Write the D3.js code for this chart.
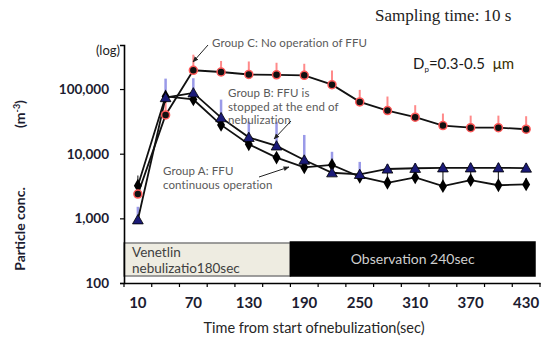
<!DOCTYPE html>
<html><head><meta charset="utf-8">
<script src="https://cdn.jsdelivr.net/npm/d3@7"></script>
<style>body{margin:0;background:#fff} svg{display:block}</style>
</head><body><svg id="c" width="543" height="340"></svg>
<script>
const categories = [10,40,70,100,130,160,190,220,250,280,310,340,370,400,430];
const tickLabels = [10,70,130,190,250,310,370,430];
const yTickValues = [100,1000,10000,100000];
const groupA = [3200,77000,69000,27900,14000,8700,6150,6700,4400,3550,4300,3150,3900,3250,3350];
const groupAUpper = [4600,80000,72000,29000,14500,9000,6400,7000,4600,5600,5700,5700,5800,5700,4200];
const groupB = [950,73800,87300,36100,17900,13200,7980,5070,4790,5800,5950,6050,6050,6050,6000];
const groupBUpper = [1510,145000,147000,68600,31300,31200,19500,10700,7470,6900,7100,7200,7200,7200,7100];
const groupC = [2370,39800,195000,183500,168000,166000,163000,117000,63300,46400,36700,27200,25300,25300,23900];
const groupCUpper = [2600,63000,340000,272000,267000,255000,246000,193000,97000,76600,56300,41800,38800,38800,38000];
const phaseLabels = [["Venetlin","nebulizatio180sec"],["Observation 240sec"]];
const phaseBounds = [[10,190],[190,430]];

const svg = d3.select("#c");
const font = "Lato, 'Liberation Sans', sans-serif";
const x = d3.scaleBand().domain(categories).range([124,540]);
const bw = x.bandwidth();
const cx = c => x(c) + bw/2;
const y = d3.scaleLog().domain([100,480000]).range([283,45]);

// defs arrow
svg.append("defs").append("marker").attr("id","ah").attr("viewBox","0 0 10 10")
  .attr("refX",9).attr("refY",5).attr("markerWidth",6).attr("markerHeight",6)
  .attr("orient","auto").append("path").attr("d","M0,1L10,5L0,9z").attr("fill","#222");

// phase boxes
const boxTop = y(100) - 40, boxBot = y(100) - 7;
phaseBounds.forEach((b,i) => {
  const x0 = i === 0 ? x.range()[0] : x(b[0]);
  const x1 = i === 0 ? x(b[1]) : x(b[1]) + bw - 5;
  const top = i === 0 ? boxTop : boxTop - 1;
  svg.append("rect").attr("x",x0).attr("y",top).attr("width",x1-x0).attr("height",boxBot-top)
    .attr("fill", i===0 ? "#eeece1" : "#000").attr("stroke", i===0 ? "#7f7f7f" : "#000").attr("stroke-width",1.5);
  if (i === 0) {
    phaseLabels[0].forEach((t,j) => svg.append("text").attr("x",x0+8).attr("y",top+14+j*16)
      .attr("font-family",font).attr("font-size",13.5).attr("fill","#404040").text(t));
  } else {
    svg.append("text").attr("x",(x0+x1)/2).attr("y",top+22).attr("text-anchor","middle")
      .attr("font-family",font).attr("font-size",14).attr("fill","#cfcfcf").text(phaseLabels[1][0]);
  }
});

// axes
const xAxis = svg.append("g").attr("transform",`translate(0,${y(100)})`)
  .call(d3.axisBottom(x).tickValues(tickLabels).tickSize(0).tickPadding(14).tickFormat(d3.format("d")));
xAxis.select(".domain").attr("stroke","#000").attr("stroke-width",1.6);
xAxis.selectAll("text").attr("font-family",font).attr("font-size",15).attr("font-weight","bold").attr("fill","#1c1c30");
const bounds = categories.map(c => x(c)).concat([x(categories[categories.length-1]) + bw]);
xAxis.selectAll("line.bt").data(bounds).join("line").attr("class","bt")
  .attr("x1",d=>d).attr("x2",d=>d).attr("y1",0).attr("y2",4).attr("stroke","#000").attr("stroke-width",1.2);

const yAxis = svg.append("g").attr("transform",`translate(${x.range()[0]},0)`)
  .call(d3.axisLeft(y).tickValues(yTickValues).tickSize(4).tickPadding(11).tickFormat(d3.format(",")));
yAxis.select(".domain").attr("stroke","#000").attr("stroke-width",1.6);
yAxis.selectAll("line").attr("stroke","#000").attr("stroke-width",1.2);
yAxis.selectAll("text").attr("font-family",font).attr("font-size",13.5).attr("font-weight","bold").attr("fill","#1c1c30");

svg.append("text").attr("x",120).attr("y",55).attr("text-anchor","end").attr("font-family",font)
  .attr("font-size",13).attr("fill","#222").text("(log)");

// y title
svg.append("text").attr("transform","translate(25,229) rotate(-90)").attr("text-anchor","middle")
  .attr("font-family",font).attr("font-size",14).attr("font-weight","bold").attr("fill","#1c1c30").text("Particle conc.");
const yt2 = svg.append("text").attr("transform","translate(25,114) rotate(-90)").attr("text-anchor","middle")
  .attr("font-family",font).attr("font-size",14).attr("font-weight","bold").attr("fill","#1c1c30");
yt2.append("tspan").text("(m");
yt2.append("tspan").attr("font-size",9).attr("dy",-5).text("-3");
yt2.append("tspan").attr("dy",5).text(")");

// x title
svg.append("text").attr("x",314).attr("y",333).attr("text-anchor","middle").attr("font-family",font)
  .attr("font-size",14.5).attr("fill","#262626").text("Time from start ofnebulization(sec)");

// top texts
svg.append("text").attr("x",375).attr("y",21).attr("font-family","'Liberation Serif', 'Times New Roman', serif")
  .attr("font-size",17).attr("fill","#222").text("Sampling time: 10 s");
const dp = svg.append("text").attr("x",413).attr("y",69).attr("font-family",font).attr("font-size",15).attr("fill","#1a1a1a");
dp.append("tspan").text("D");
dp.append("tspan").attr("font-size",8).attr("dy",3).text("p");
dp.append("tspan").attr("dy",-3).text("=0.3-0.5\u00a0\u00a0");
dp.append("tspan").attr("fill","#3a2f00").text("μm");

// series
const series = [
  {vals: groupA, up: groupAUpper, err:"#333", errW:1.2},
  {vals: groupB, up: groupBUpper, err:"#9a9ae8", errW:2.5},
  {vals: groupC, up: groupCUpper, err:"#ff8a8a", errW:2}
];
series.forEach(s => {
  svg.append("g").selectAll("line").data(categories).join("line")
    .attr("x1",c=>cx(c)).attr("x2",c=>cx(c))
    .attr("y1",(c,i)=>y(s.vals[i])).attr("y2",(c,i)=>y(s.up[i]))
    .attr("stroke",s.err).attr("stroke-width",s.errW);
});
const line = d3.line().x((d,i)=>cx(categories[i])).y(d=>y(d));
series.forEach(s => {
  svg.append("path").attr("d",line(s.vals)).attr("fill","none").attr("stroke","#111").attr("stroke-width",1.8);
});
// markers
svg.append("g").selectAll("path").data(groupA).join("path")
  .attr("transform",(d,i)=>`translate(${cx(categories[i])},${y(d)})`)
  .attr("d",d3.symbol(d3.symbolDiamond,55)).attr("fill","#000");
svg.append("g").selectAll("path").data(groupB).join("path")
  .attr("transform",(d,i)=>`translate(${cx(categories[i])},${y(d)+1})`)
  .attr("d",d3.symbol(d3.symbolTriangle,50)).attr("fill","#1b1b78").attr("stroke","#000").attr("stroke-width",0.8);
svg.append("g").selectAll("circle").data(groupC).join("circle")
  .attr("cx",(d,i)=>cx(categories[i])).attr("cy",d=>y(d)).attr("r",4)
  .attr("fill","#111").attr("stroke","#ff5a5a").attr("stroke-width",1.5);

// annotations
const ann = [
  {lines:["Group C: No operation of FFU"], x:212, y:47, a:[208,45,193,62]},
  {lines:["Group B: FFU is","stopped at the end of","nebulization"], x:228, y:97, a:[291,121,274,139]},
  {lines:["Group A: FFU","continuous operation"], x:163, y:175, a:[259,177,289,167]}
];
ann.forEach(a => {
  a.lines.forEach((t,j) => svg.append("text").attr("x",a.x).attr("y",a.y+j*13.5)
    .attr("font-family",font).attr("font-size",11.5).attr("fill","#595959").attr("letter-spacing",0.1).text(t));
  svg.append("line").attr("x1",a.a[0]).attr("y1",a.a[1]).attr("x2",a.a[2]).attr("y2",a.a[3])
    .attr("stroke","#222").attr("stroke-width",1).attr("marker-end","url(#ah)");
});
</script></body></html>
